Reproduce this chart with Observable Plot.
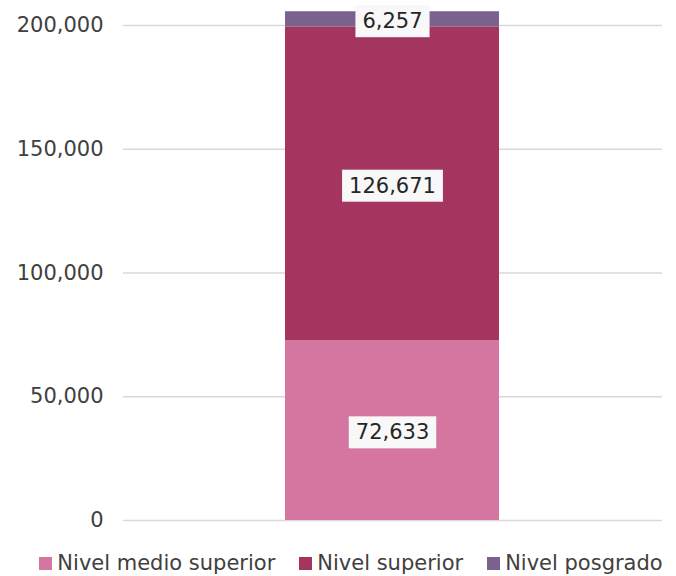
<!DOCTYPE html>
<html>
<head>
<meta charset="utf-8">
<script src="https://cdn.jsdelivr.net/npm/d3@7"></script>
<script src="https://cdn.jsdelivr.net/npm/@observablehq/plot@0.6"></script>
<style>
  html, body { margin: 0; padding: 0; background: #fff; }
  body { width: 676px; height: 576px; font-family: "DejaVu Sans", sans-serif; }
  #legend { display: flex; justify-content: center; gap: 24px; font-size: 21px; color: #404040; margin-top: 6px; padding-left: 26px; }
  #legend .item { display: flex; align-items: center; gap: 5px; }
  #legend .sw { width: 13px; height: 13px; display: inline-block; }
</style>
</head>
<body>
<div id="chart"></div>
<div id="legend"></div>
<script>
const categories = ["Total"];
const levels = ["Nivel medio superior", "Nivel superior", "Nivel posgrado"];
const values = [72633, 126671, 6257];
const colors = ["#D4769F", "#A3355E", "#7B628E"];
const yTicks = [0, 50000, 100000, 150000, 200000];

const data = levels.map((lvl, i) => ({cat: categories[0], level: lvl, value: values[i]}));
const fmt = d3.format(",");

const plot = Plot.plot({
  width: 676,
  height: 545,
  marginLeft: 123,
  marginRight: 14,
  marginTop: 0,
  marginBottom: 25,
  style: {fontFamily: "DejaVu Sans, sans-serif", fontSize: "21px", color: "#404040", overflow: "visible"},
  x: {domain: categories, padding: 0.43, axis: null},
  y: {domain: [0, 200000], range: [520, 25], ticks: yTicks, tickFormat: fmt, tickSize: 0, tickPadding: 20, label: null},
  color: {domain: levels, range: colors},
  marks: [
    Plot.gridY(yTicks, {stroke: "#d9d9d9", strokeOpacity: 1, strokeWidth: 1.3}),
    Plot.barY(data, {x: "cat", y: "value", fill: "level"}),
    Plot.text(data, Plot.stackY({x: "cat", y: "value", z: "level", text: d => fmt(d.value), fill: "#262626", fontSize: 21, dy: 2, className: "seglabel"}))
  ]
});
document.getElementById("chart").appendChild(plot);

// white boxes behind segment labels
d3.select(plot).selectAll("g.seglabel text").each(function() {
  const b = this.getBBox();
  const padX = 7, padY = 4;
  d3.select(this.parentNode).insert("rect", () => this)
    .attr("transform", this.getAttribute("transform"))
    .attr("x", b.x - padX).attr("y", b.y - padY)
    .attr("width", b.width + 2 * padX).attr("height", b.height + 2 * padY)
    .attr("fill", "#f8f8f8");
});

const legend = d3.select("#legend");
levels.forEach((lvl, i) => {
  const it = legend.append("div").attr("class", "item");
  it.append("span").attr("class", "sw").style("background", colors[i]);
  it.append("span").text(lvl);
});
</script>
</body>
</html>
